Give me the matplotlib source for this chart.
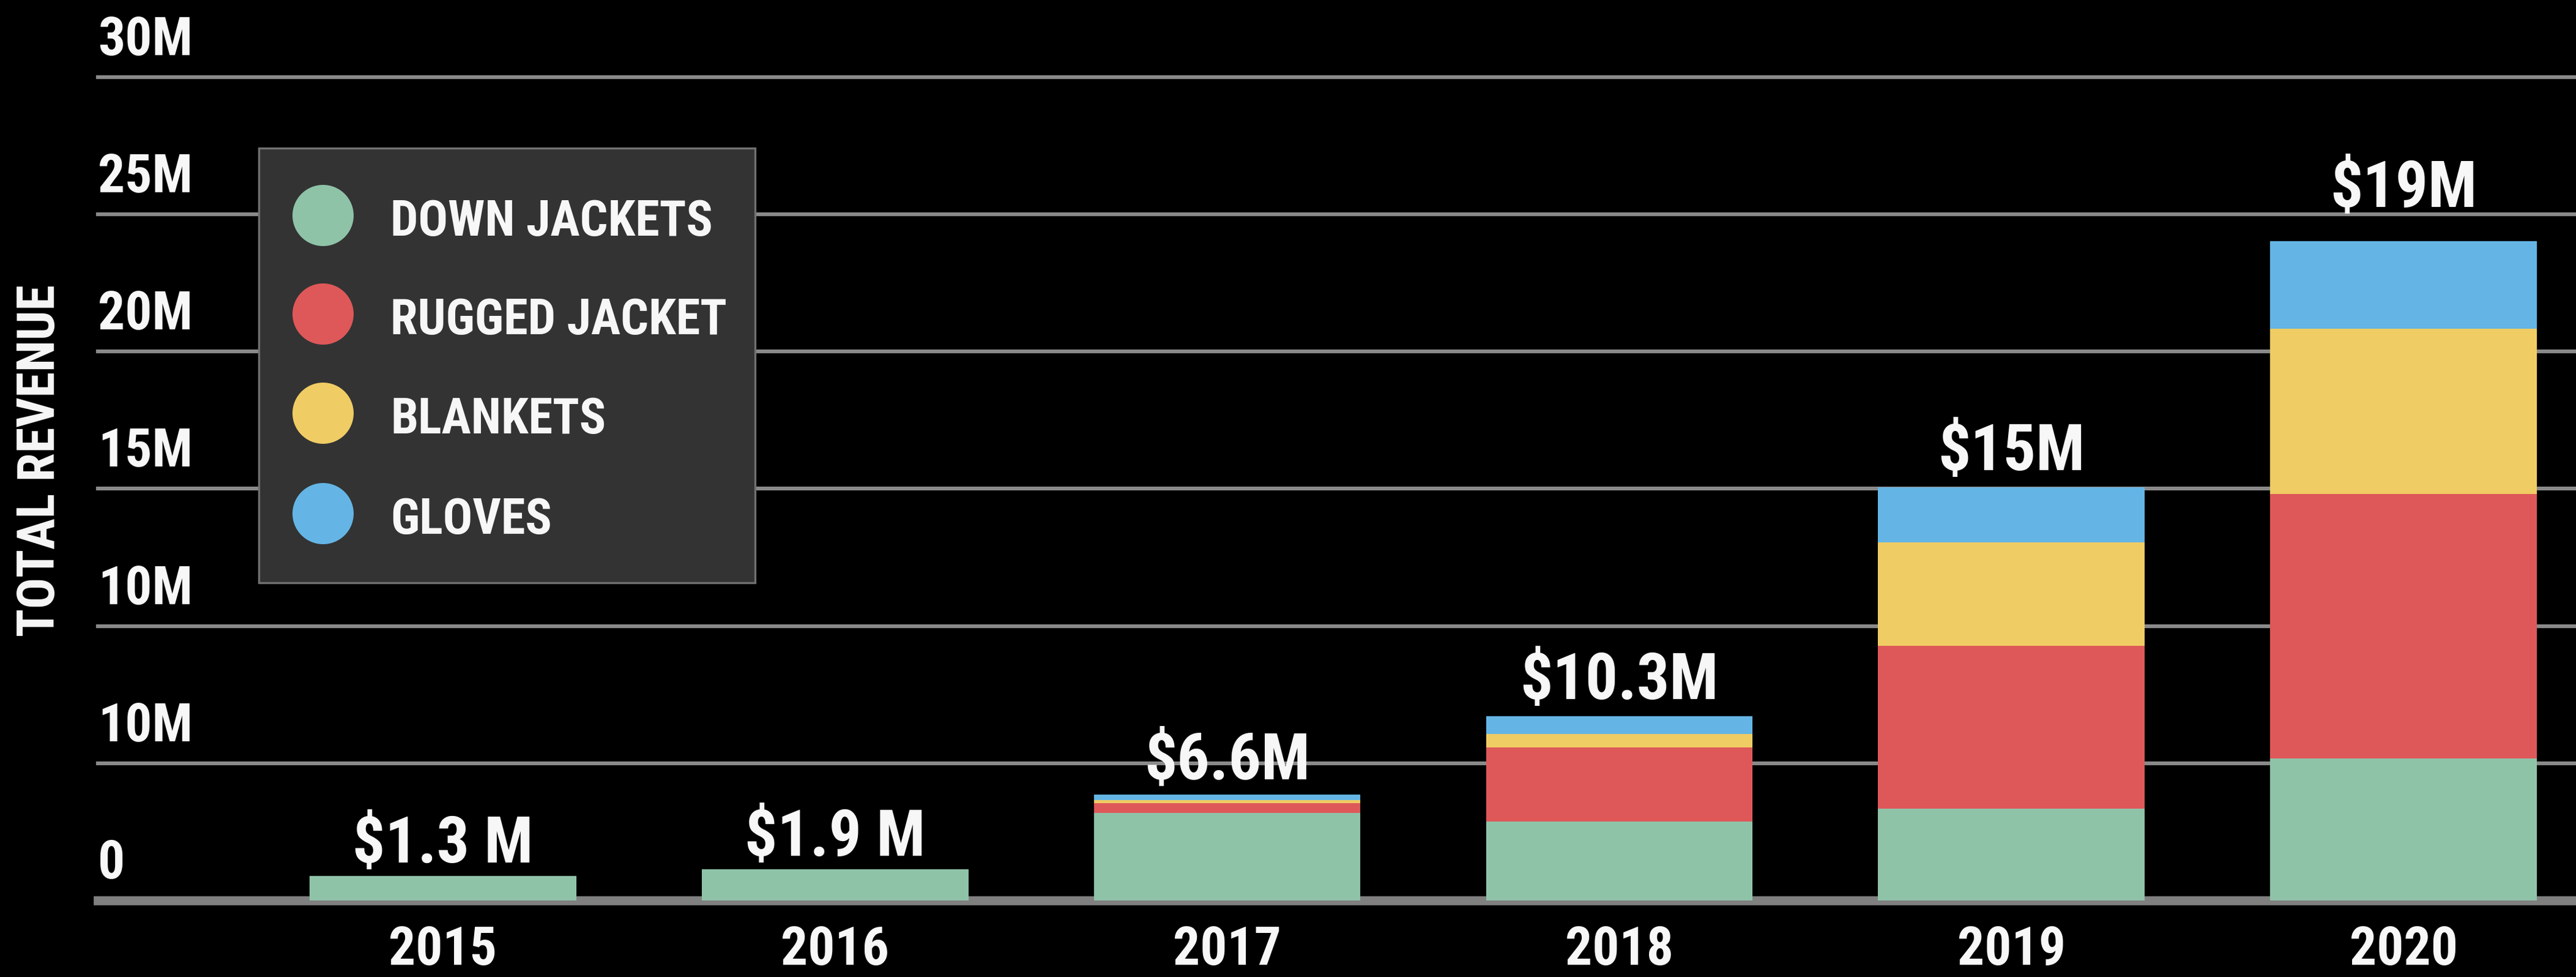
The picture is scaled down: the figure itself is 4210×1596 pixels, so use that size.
import numpy as np
import matplotlib
matplotlib.use("Agg")
import matplotlib.pyplot as plt
from matplotlib import font_manager as fm
from matplotlib.patches import Rectangle, Ellipse

# --- data (millions) ---
years = ["2015", "2016", "2017", "2018", "2019", "2020"]
down_jackets = [0.89, 1.14, 3.18, 2.88, 3.34, 5.17]
rugged_jacket = [0.0, 0.0, 0.37, 2.70, 5.93, 9.63]
blankets = [0.0, 0.0, 0.10, 0.48, 3.78, 6.03]
gloves = [0.0, 0.0, 0.21, 0.65, 2.00, 3.20]
total_labels = ["$1.3 M", "$1.9 M", "$6.6M", "$10.3M", "$15M", "$19M"]

series_names = ["DOWN JACKETS", "RUGGED JACKET", "BLANKETS", "GLOVES"]
y_ticks = [0, 5, 10, 15, 20, 25, 30]
y_tick_labels = ["0", "10M", "10M", "15M", "20M", "25M", "30M"]

colors = ["#8fc3a8", "#de5859", "#f0cc64", "#64b5e5"]

# pick a narrow bold face if one is installed
installed = {f.name for f in fm.fontManager.ttflist}
FONT = "DejaVu Sans"
for cand in ["Liberation Sans Narrow", "Roboto Condensed", "Open Sans Condensed",
             "Noto Sans Condensed", "DejaVu Sans Condensed"]:
    if cand in installed:
        FONT = cand
        break
plt.rcParams["font.family"] = [FONT, "DejaVu Sans"]
plt.rcParams["font.weight"] = "bold"

W, H = 4210, 1596
DPI = 200
fig = plt.figure(figsize=(W / DPI, H / DPI), dpi=DPI, facecolor="black")


def fx(x):
    return x / W


def fy(y):
    return 1 - y / H


ax = fig.add_axes([fx(160), fy(1471), 1 - fx(160), (1471 - 126) / H])
ax.set_facecolor("black")
for s in ax.spines.values():
    s.set_visible(False)

x = np.arange(len(years))
ax.set_xlim(-0.88, 5.44)
ax.set_ylim(0, 30)

# gridlines
for t in y_ticks[1:]:
    ax.axhline(t, color="#8a8a8a", lw=2.2, zorder=0, clip_on=False)
ax.axhline(0, color="#808080", lw=5.3, zorder=0, clip_on=False)

# stacked bars
bottom = np.zeros(len(years))
for vals, c in zip([down_jackets, rugged_jacket, blankets, gloves], colors):
    ax.bar(x, vals, bottom=bottom, width=0.68, color=c, zorder=2, linewidth=0)
    bottom += np.array(vals)

# totals above bars
label_pad = [8, 8, 9, 10, 10, 20]
for xi, top, lbl, pad in zip(x, bottom, total_labels, label_pad):
    ax.annotate(lbl, xy=(xi, top), xytext=(0, pad), textcoords="offset points",
                ha="center", va="baseline", color="#f7f7f7", fontsize=38,
                fontweight="bold", zorder=4)

# y tick labels sit above their gridlines
ax.set_yticks([])
for t, lbl in zip(y_ticks, y_tick_labels):
    ax.annotate(lbl, xy=(0, t), xycoords=("axes fraction", "data"),
                xytext=(0, 13), textcoords="offset points",
                ha="left", va="baseline", color="#f7f7f7", fontsize=31.5,
                fontweight="bold", annotation_clip=False)

ax.set_xticks(x)
ax.set_xticklabels(years, fontsize=31.5, fontweight="bold", color="#f7f7f7")
ax.tick_params(axis="x", length=0, pad=14)

fig.text(fx(66), fy(752), "TOTAL REVENUE", rotation=90, ha="center", va="center",
         color="#f7f7f7", fontsize=30.5, fontweight="bold")

# legend box
fig.add_artist(Rectangle((fx(423), fy(952)), fx(1234 - 423), (952 - 242) / H,
                         transform=fig.transFigure, facecolor="#333333",
                         edgecolor="#707070", lw=1.2, zorder=5))
row_y = [352, 513, 675, 839]
for name, c, ry in zip(series_names, colors, row_y):
    fig.add_artist(Ellipse((fx(528), fy(ry)), 100 / W, 100 / H,
                           transform=fig.transFigure, facecolor=c,
                           edgecolor="none", zorder=6))
    fig.text(fx(638), fy(ry + 33), name, ha="left", va="baseline",
             color="#f7f7f7", fontsize=29, fontweight="bold", zorder=7)

fig.savefig("out.png", dpi=DPI, facecolor="black")
